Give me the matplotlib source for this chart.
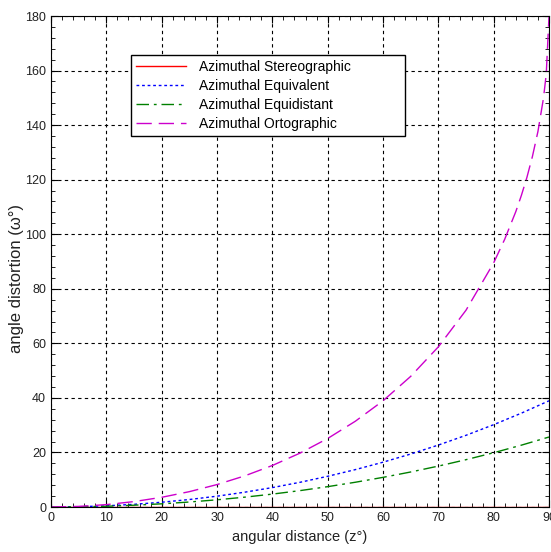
import numpy as np
import matplotlib.pyplot as plt
from matplotlib.ticker import MultipleLocator

plt.rcParams['font.family'] = ['Liberation Sans', 'DejaVu Sans']

# angular distance z (deg) and maximum angle distortion omega (deg)
z = [0, 5, 10, 15, 20, 25, 30, 35, 40, 45, 50, 55, 60, 65, 70, 75, 80, 85, 90]
stereographic = [0] * len(z)
equivalent = [0, 0.11, 0.44, 0.99, 1.75, 2.75, 3.97, 5.43, 7.12, 9.06, 11.26,
              13.71, 16.43, 19.42, 22.71, 26.29, 30.19, 34.40, 38.94]
equidistant = [0, 0.07, 0.29, 0.66, 1.17, 1.83, 2.64, 3.61, 4.73, 6.01, 7.46,
               9.08, 10.87, 12.84, 15.00, 17.35, 19.90, 22.67, 25.66]

z_orto = [0, 5, 10, 15, 20, 25, 30, 35, 40, 45, 50, 55, 60, 65, 70, 75, 80,
          82, 84, 85, 86, 87, 88, 89, 89.5, 90]
ortographic = [0, 0.22, 0.88, 1.99, 3.56, 5.63, 8.23, 11.41, 15.22, 19.76, 25.12,
               31.45, 38.94, 47.89, 58.72, 72.15, 89.52, 98.2, 108.3, 114.2,
               120.8, 128.5, 137.7, 149.9, 158.7, 180]

fig = plt.figure(figsize=(5.51, 5.52), dpi=100)
ax = fig.add_axes([0.0926, 0.0815, 0.9038, 0.8895])

ax.plot(z, stereographic, color='#ff0000', lw=1, label='Azimuthal Stereographic')
ax.plot(z, equivalent, color='#0000ff', lw=1, ls=(0, (2, 2)), label='Azimuthal Equivalent')
ax.plot(z, equidistant, color='#008000', lw=1, ls=(0, (9, 3.5, 2, 3.5)), label='Azimuthal Equidistant')
ax.plot(z_orto, ortographic, color='#cc00cc', lw=1, ls=(0, (11, 5)), label='Azimuthal Ortographic')

ax.set_xlim(0, 90)
ax.set_ylim(0, 180)
ax.xaxis.set_major_locator(MultipleLocator(10))
ax.xaxis.set_minor_locator(MultipleLocator(2))
ax.yaxis.set_major_locator(MultipleLocator(20))
ax.yaxis.set_minor_locator(MultipleLocator(4))
ax.tick_params(which='both', direction='in', top=True, right=True,
               labelsize=9, labelcolor='#222222')
ax.tick_params(which='major', length=5)
ax.tick_params(which='minor', length=3)
ax.grid(True, color='black', ls=(0, (3, 3)), lw=0.8)

ax.set_xlabel('angular distance (z°)', fontsize=10.5, color='#222222')
ax.set_ylabel('angle distortion (ω°)', fontsize=12, color='#222222')
ax.xaxis.set_label_coords(0.5, -0.047)
ax.yaxis.set_label_coords(-0.054, 0.466)

ax.legend(loc='upper left', bbox_to_anchor=(0.161, 0.762, 0.550, 0.159),
          mode='expand', borderaxespad=0, fontsize=10, fancybox=False,
          framealpha=1, edgecolor='black', handlelength=3.6,
          handletextpad=0.9, borderpad=0.35, labelspacing=0.37)

fig.savefig('out.png', dpi=100)
